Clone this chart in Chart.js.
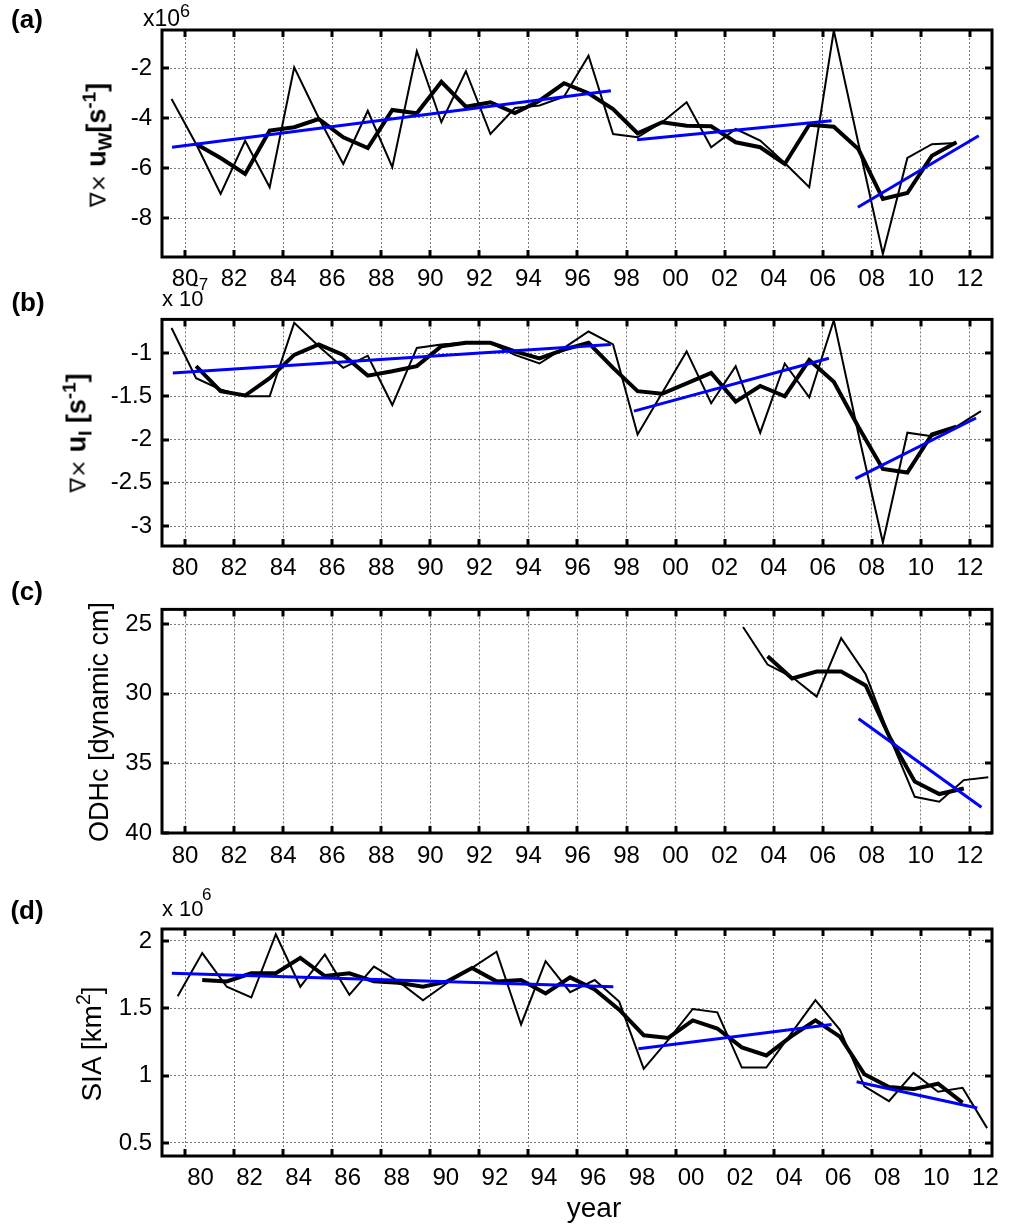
<!DOCTYPE html>
<html><head><meta charset="utf-8">
<script src="https://cdn.jsdelivr.net/npm/chart.js@4.4.1/dist/chart.umd.min.js"></script>
<style>
html,body{margin:0;padding:0;background:#fff;}
body{width:1011px;height:1231px;position:relative;overflow:hidden;font-family:"Liberation Sans",Arial,sans-serif;color:#000;}
canvas.pc{position:absolute;left:0;}
.t{position:absolute;white-space:nowrap;line-height:1;}
.c{position:absolute;white-space:nowrap;line-height:1;transform:translate(-50%,-50%);}
.rot{position:absolute;white-space:nowrap;line-height:1;transform:translate(-50%,-50%) rotate(-90deg);}
sub,sup{font-size:70%;line-height:0;position:relative;vertical-align:baseline;}
sup{top:-0.55em;} sub{top:0.3em;}
.nab{font-weight:normal;font-family:"DejaVu Sans",sans-serif;font-size:22px;}
</style></head><body>
<canvas class="pc" id="ca" width="1011" height="295" style="top:0px"></canvas>
<canvas class="pc" id="cb" width="1011" height="290" style="top:295px"></canvas>
<canvas class="pc" id="cc" width="1011" height="290" style="top:585px"></canvas>
<canvas class="pc" id="cd" width="1011" height="356" style="top:875px"></canvas>

<div class="c" style="left:27px;top:19px;font-size:26px;font-weight:bold">(a)</div>
<div class="c" style="left:28px;top:302px;font-size:26px;font-weight:bold">(b)</div>
<div class="c" style="left:27px;top:591px;font-size:26px;font-weight:bold">(c)</div>
<div class="c" style="left:27px;top:910px;font-size:26px;font-weight:bold">(d)</div>

<div class="t" style="left:143px;top:7px;font-size:23px">x10<sup style="font-size:18px;top:-9px">6</sup></div>
<div class="t" style="left:162px;top:288px;font-size:22px">x 10</div>
<div class="t" style="left:193px;top:276px;font-size:17px">-7</div>
<div class="t" style="left:162px;top:898px;font-size:22px">x 10</div>
<div class="t" style="left:202px;top:886px;font-size:17px">6</div>

<div class="rot" style="left:97px;top:145px;font-size:27px"><span class="nab">∇× </span><b>u<sub>W</sub>[s<sup>-1</sup>]</b></div>
<div class="rot" style="left:77px;top:433px;font-size:27px"><span class="nab">∇× </span><b>u<sub>I</sub> [s<sup>-1</sup>]</b></div>
<div class="rot" style="left:99px;top:722px;font-size:27px">ODHc [dynamic cm]</div>
<div class="rot" style="left:92px;top:1044px;font-size:28px">SIA [km<sup>2</sup>]</div>
<div class="c" style="left:594px;top:1208px;font-size:28px">year</div>

<script>
// ---------- data ----------
const years = [1979,1980,1981,1982,1983,1984,1985,1986,1987,1988,1989,1990,1991,1992,1993,1994,1995,1996,1997,1998,1999,2000,2001,2002,2003,2004,2005,2006,2007,2008,2009,2010,2011,2012];
const xTickYears = [1980,1982,1984,1986,1988,1990,1992,1994,1996,1998,2000,2002,2004,2006,2008,2010,2012];
const xTickLabels = ['80','82','84','86','88','90','92','94','96','98','00','02','04','06','08','10','12'];

// (a) wind curl x10^-6 s^-1
const aYTicks = [-8,-6,-4,-2];
const aYLabels = ['-8','-6','-4','-2'];
const aThin = [-3.24,-5.04,-7.04,-4.91,-6.77,-1.97,-4.0,-5.84,-3.71,-5.97,-1.33,-4.17,-2.13,-4.64,-3.6,-3.5,-3.15,-1.51,-4.64,-4.77,-4.17,-3.37,-5.17,-4.44,-4.9,-5.8,-6.77,-0.5,-5.0,-9.44,-5.6,-5.05,-5.0];
const aThick = [-5.04,-5.6,-6.24,-4.5,-4.37,-4.04,-4.77,-5.2,-3.68,-3.81,-2.55,-3.55,-3.37,-3.8,-3.31,-2.61,-3.01,-3.64,-4.61,-4.17,-4.31,-4.33,-4.97,-5.17,-5.84,-4.27,-4.35,-5.24,-7.24,-7.0,-5.51,-4.97];
const aTrendX = [[1979.47,1997.36],[1998.43,2006.36],[2007.43,2012.36]];
const aTrendY = [[-5.17,-2.91],[-4.87,-4.11],[-7.57,-4.71]];

// (b) ice-ocean curl x10^-7 s^-1
const bYTicks = [-3,-2.5,-2,-1.5,-1];
const bYLabels = ['-3','-2.5','-2','-1.5','-1'];
const bThin = [-0.71,-1.29,-1.42,-1.5,-1.5,-0.65,-0.92,-1.17,-1.03,-1.6,-0.94,-0.9,-0.88,-0.88,-1.02,-1.12,-0.94,-0.75,-0.9,-1.94,-1.46,-0.98,-1.58,-1.15,-1.92,-1.12,-1.51,-0.62,-1.93,-3.19,-1.92,-1.96,-1.85,-1.67];
const bThick = [-1.15,-1.44,-1.49,-1.29,-1.02,-0.9,-1.02,-1.26,-1.21,-1.15,-0.92,-0.88,-0.88,-0.98,-1.06,-0.96,-0.88,-1.17,-1.44,-1.47,-1.35,-1.23,-1.56,-1.38,-1.5,-1.08,-1.33,-1.85,-2.34,-2.38,-1.94,-1.85];
const bTrendX = [[1979.5,1997.36],[1998.3,2006.25],[2007.33,2012.25]];
const bTrendY = [[-1.23,-0.9],[-1.67,-1.06],[-2.45,-1.75]];

// (c) ODHc dynamic cm
const cYTicks = [25,30,35,40];
const cYLabels = ['25','30','35','40'];
const cThin = [25.2,27.9,28.8,30.2,26.0,28.6,33.2,37.4,37.75,36.2,36.0];
const cThick = [27.3,28.9,28.4,28.4,29.4,33.2,36.3,37.2,36.8];
const cTrendX = [[2007.46,2012.47]];
const cTrendY = [[31.8,38.15]];

// (d) SIA x10^6 km^2
const dYTicks = [0.5,1,1.5,2];
const dYLabels = ['0.5','1','1.5','2'];
const dThin = [1.59,1.91,1.66,1.58,2.05,1.66,1.9,1.6,1.81,1.70,1.56,1.69,1.80,1.92,1.38,1.85,1.62,1.71,1.55,1.05,1.265,1.495,1.47,1.06,1.06,1.31,1.56,1.34,0.92,0.81,1.02,0.88,0.91,0.61];
const dThick = [1.71,1.70,1.76,1.76,1.875,1.74,1.76,1.70,1.69,1.66,1.70,1.80,1.70,1.71,1.61,1.73,1.64,1.49,1.30,1.28,1.41,1.35,1.21,1.15,1.29,1.41,1.29,1.01,0.915,0.90,0.94,0.80];
const dTrendX = [[1979.46,1997.46],[1998.48,2006.36],[2007.38,2012.3]];
const dTrendY = [[1.76,1.66],[1.20,1.38],[0.955,0.76]];

// ---------- drawing ----------
Chart.defaults.font.family = '"Liberation Sans", Arial, sans-serif';
Chart.defaults.color = '#000';

function series(startYear, offset, vals){
  const i0 = years.indexOf(startYear);
  return vals.map((v,i)=>({x: years[i0+i] + offset, y: v}));
}

const boxPlugin = {
  id:'boxTicks',
  afterDatasetsDraw(chart){
    const {ctx, chartArea:a, scales:{x, y}} = chart;
    ctx.save();
    ctx.strokeStyle = '#000';
    ctx.lineWidth = 3;
    ctx.beginPath();
    x.ticks.forEach(t=>{
      const px = Math.round(x.getPixelForValue(t.value));
      ctx.moveTo(px, a.top); ctx.lineTo(px, a.top + 7);
      ctx.moveTo(px, a.bottom); ctx.lineTo(px, a.bottom - 7);
    });
    y.ticks.forEach(t=>{
      const py = Math.round(y.getPixelForValue(t.value));
      ctx.moveTo(a.left, py); ctx.lineTo(a.left + 7, py);
      ctx.moveTo(a.right, py); ctx.lineTo(a.right - 7, py);
    });
    ctx.stroke();
    ctx.lineWidth = 3;
    ctx.strokeRect(a.left, a.top, a.right - a.left, a.bottom - a.top);
    ctx.restore();
  }
};

function makePanel(id, p){
  const ds = [];
  p.trendX.forEach((xs, k)=>{
    ds.push({data: xs.map((xv,j)=>({x:xv, y:p.trendY[k][j]})), borderColor:'#0000ff', borderWidth:3});
  });
  ds.push({data: series(p.thickStart, p.off, p.thick), borderColor:'#000', borderWidth:4});
  ds.push({data: series(p.thinStart, p.off, p.thin), borderColor:'#000', borderWidth:2});
  ds.forEach(d=>{ d.pointRadius = 0; d.tension = 0; d.fill = false; });
  new Chart(document.getElementById(id), {
    type:'line',
    data:{datasets: ds},
    options:{
      responsive:false, animation:false, devicePixelRatio:1,
      layout:{padding:{top:p.padTop, right:19, left:0, bottom:0}},
      plugins:{legend:{display:false}, tooltip:{enabled:false}},
      events:[],
      scales:{
        x:{type:'linear', min:1979.06, max:2012.9,
          afterBuildTicks: s=>{ s.ticks = xTickYears.map(v=>({value:v})); },
          afterFit: s=>{ s.height = p.xAxisH; },
          ticks:{callback:(v,i)=>xTickLabels[i], font:{size:24}, color:'#000', padding:p.xPad, maxRotation:0, autoSkip:false, labelOffset:p.labelOffset||0},
          grid:{color:'#7a7a7a', lineWidth:1, drawTicks:false},
          border:{display:false, dash:[2,2]}
        },
        y:{type:'linear', min:p.yMin, max:p.yMax, reverse:!!p.reverse,
          afterBuildTicks: s=>{ s.ticks = p.yTicks.map(v=>({value:v})); },
          afterFit: s=>{ s.width = 162; },
          ticks:{callback:(v,i)=>p.yLabels[i], font:{size:24}, color:'#000', padding:10, autoSkip:false},
          grid:{color:'#7a7a7a', lineWidth:1, drawTicks:false},
          border:{display:false, dash:[2,2]}
        }
      }
    },
    plugins:[boxPlugin]
  });
}

makePanel('ca', {padTop:30, xAxisH:38, xPad:8, yMin:-9.56, yMax:-0.48, yTicks:aYTicks, yLabels:aYLabels,
  thin:aThin, thinStart:1979, thick:aThick, thickStart:1980, off:0.45, trendX:aTrendX, trendY:aTrendY});
makePanel('cb', {padTop:23, xAxisH:39, xPad:8, yMin:-3.23, yMax:-0.61, yTicks:bYTicks, yLabels:bYLabels,
  thin:bThin, thinStart:1979, thick:bThick, thickStart:1980, off:0.45, trendX:bTrendX, trendY:bTrendY});
makePanel('cc', {padTop:21, xAxisH:42, xPad:9, yMin:23.94, yMax:40, reverse:true, yTicks:cYTicks, yLabels:cYLabels,
  thin:cThin, thinStart:2002, thick:cThick, thickStart:2003, off:0.75, trendX:cTrendX, trendY:cTrendY});
makePanel('cd', {padTop:54, xAxisH:75, xPad:8, labelOffset:15.5, yMin:0.403, yMax:2.089, yTicks:dYTicks, yLabels:dYLabels,
  thin:dThin, thinStart:1979, thick:dThick, thickStart:1980, off:0.7, trendX:dTrendX, trendY:dTrendY});
</script>
</body></html>
